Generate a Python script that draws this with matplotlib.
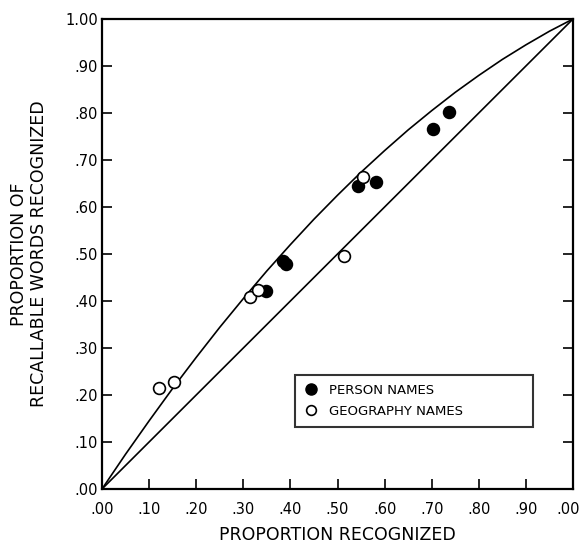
import matplotlib
matplotlib.use("Agg")
import matplotlib.pyplot as plt
from matplotlib.lines import Line2D
import matplotlib.transforms as mtransforms

plt.rcParams['font.family'] = ['DejaVu Sans']

# Data
person_x = [0.348, 0.385, 0.390, 0.544, 0.582, 0.703, 0.737]
person_y = [0.421, 0.485, 0.478, 0.645, 0.653, 0.766, 0.802]
geo_x = [0.121, 0.153, 0.314, 0.331, 0.514, 0.554]
geo_y = [0.215, 0.228, 0.409, 0.423, 0.496, 0.664]

# Reference curves
diag_x = [0.0, 1.0]
diag_y = [0.0, 1.0]
curve_x = [0.00, 0.05, 0.10, 0.15, 0.20, 0.25, 0.30, 0.35, 0.40, 0.45, 0.50,
           0.55, 0.60, 0.65, 0.70, 0.75, 0.80, 0.85, 0.90, 0.95, 1.00]
curve_y = [0.000, 0.074, 0.145, 0.214, 0.280, 0.344, 0.405, 0.464, 0.520, 0.574, 0.625,
           0.674, 0.720, 0.764, 0.805, 0.844, 0.880, 0.914, 0.945, 0.974, 1.000]

tick_vals = [0.0, 0.1, 0.2, 0.3, 0.4, 0.5, 0.6, 0.7, 0.8, 0.9, 1.0]
x_tick_labels = ['.00', '.10', '.20', '.30', '.40', '.50', '.60', '.70', '.80', '.90', '.00']
y_tick_labels = ['.00', '.10', '.20', '.30', '.40', '.50', '.60', '.70', '.80', '.90', '1.00']

fig = plt.figure(figsize=(5.81, 5.44), dpi=100)
ax = fig.add_axes([102/581, 55/544, 471/581, 470/544])

ax.plot(diag_x, diag_y, color='black', lw=1.2, zorder=2)
ax.plot(curve_x, curve_y, color='black', lw=1.2, zorder=2)

ax.plot(person_x, person_y, 'o', ms=8.5, mfc='black', mec='black', mew=1.2,
        linestyle='none', zorder=3)
ax.plot(geo_x, geo_y, 'o', ms=8.5, mfc='white', mec='black', mew=1.2,
        linestyle='none', zorder=3)

ax.set_xlim(0, 1)
ax.set_ylim(0, 1)
ax.set_xticks(tick_vals)
ax.set_xticklabels(x_tick_labels)
ax.set_yticks(tick_vals)
ax.set_yticklabels(y_tick_labels)
ax.tick_params(direction='in', length=7, width=1.2, labelsize=10.5,
               right=True, top=False)
ax.tick_params(axis='x', pad=9)
ax.tick_params(axis='y', pad=3)
for s in ax.spines.values():
    s.set_linewidth(1.6)

# shift the last x tick label slightly left so it stays inside the figure
last = ax.get_xticklabels()[-1]
last.set_transform(last.get_transform() +
                   mtransforms.ScaledTranslation(-5/100, 0, fig.dpi_scale_trans))

ax.set_xlabel('PROPORTION RECOGNIZED', fontsize=12.5, labelpad=7)
ax.set_ylabel('PROPORTION OF\nRECALLABLE WORDS RECOGNIZED', fontsize=12.5,
              labelpad=12, linespacing=1.2)

handles = [Line2D([], [], marker='o', ls='none', ms=8, mfc='black', mec='black'),
           Line2D([], [], marker='o', ls='none', ms=7, mfc='white', mec='black', mew=1.2)]
leg = ax.legend(handles, ['PERSON NAMES', 'GEOGRAPHY NAMES'],
                loc='lower left', bbox_to_anchor=(0.41, 0.132, 0.505, 0.123),
                mode='expand', borderaxespad=0, fontsize=9.5, frameon=True,
                fancybox=False, handlelength=1.0, handletextpad=0.9,
                borderpad=0.7, labelspacing=0.6)
leg.get_frame().set_edgecolor('black')
leg.get_frame().set_linewidth(1.5)

fig.savefig('out.png', dpi=100)
